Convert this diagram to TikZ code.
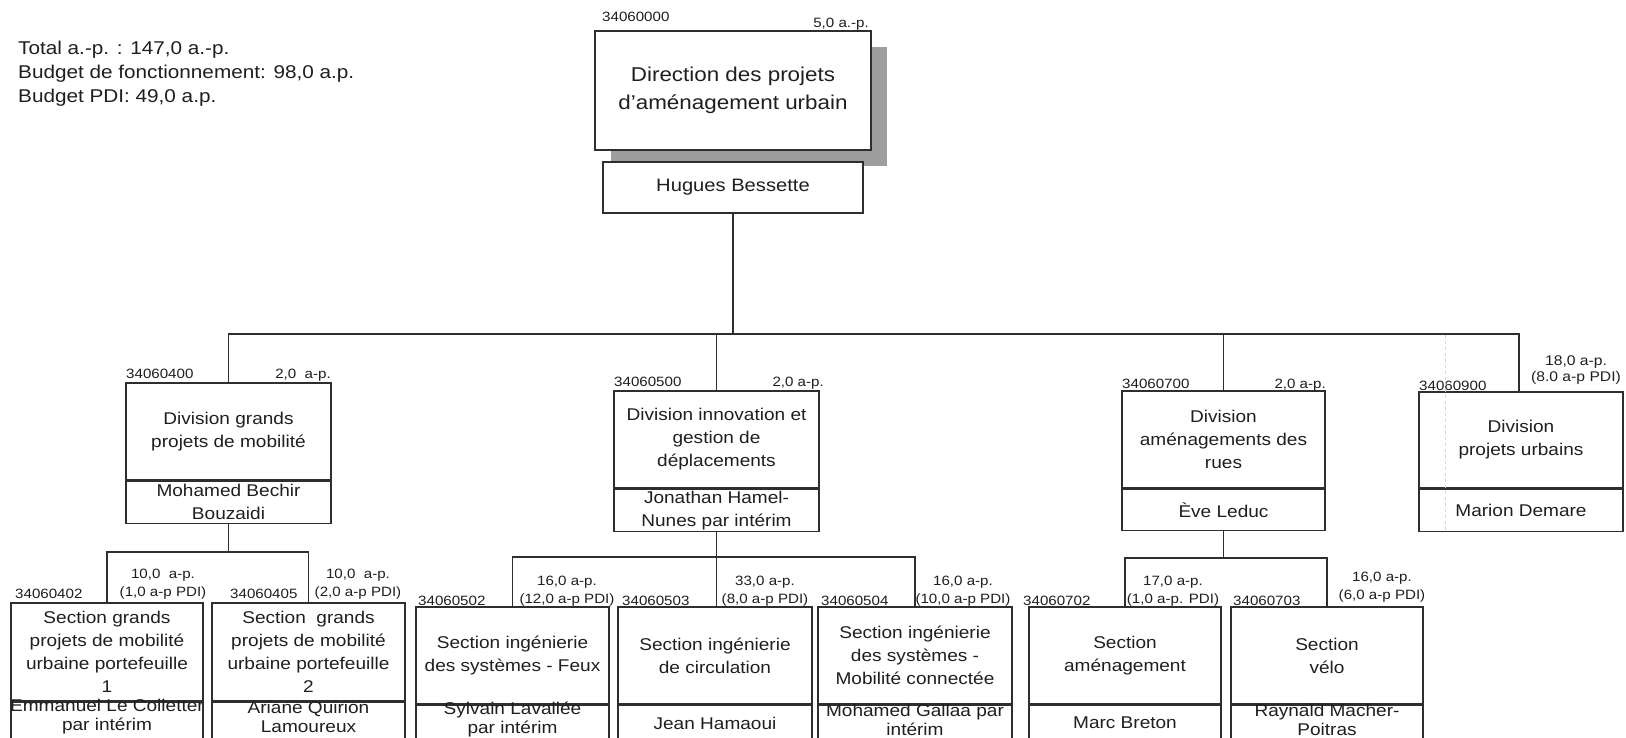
\documentclass[tikz,border=0pt]{standalone}
\usepackage{fontspec}
\setmainfont{Liberation Sans}[FakeStretch=1.12]
\newcommand\fsz[2]{\fontsize{#1}{#2}\selectfont}
\definecolor{linec}{HTML}{2E2E2E}
\definecolor{textc}{HTML}{1F1F1F}
\definecolor{shadowc}{HTML}{9E9E9E}
\tikzset{
  box/.style={draw=linec, line width=1.4pt, fill=white, inner sep=0pt, align=center, text=textc, font=\fsz{17}{23}},
  code/.style={inner sep=0pt, text=textc, font=\fsz{13.5}{16}},
  val/.style={inner sep=0pt, text=textc, align=center, font=\fsz{13.5}{18}},
  nametext/.style={inner sep=0pt, text=textc, align=center, font=\fsz{17}{19}},
  conn/.style={draw=linec, line width=1.4pt},
}
\begin{document}
\begin{tikzpicture}[x=1pt,y=-1pt]
\useasboundingbox[fill=white] (0,0) rectangle (1626,738);

% top-left totals
\node[inner sep=0pt, anchor=west, align=left, text=textc, font=\fsz{18.5}{24}] (tot) at (18,74)
  {Total a.-p. : 147,0 a.-p.\\Budget de fonctionnement: 98,0 a.p.\\Budget PDI: 49,0 a.p.};

% direction
\fill[shadowc] (611,47) rectangle (887,166);
\node[box, minimum width=276pt, minimum height=119pt, font=\fsz{20}{28}] (dir) at (733,90.5)
  {Direction des projets\\d’aménagement urbain};
\node[box, minimum width=260pt, minimum height=51pt, font=\fsz{18}{22}] (dirn) at (733,187.5) {Hugues Bessette};
\node[code, anchor=base west] (c0) at (602,22) {34060000};
\node[code, anchor=base east] (v0) at (869,28) {5,0 a.-p.};

% divisions
\node[box, minimum width=205pt, minimum height=97pt] (dg) at (228.5,431.5) {Division grands\\projets de mobilité};
\node[box, minimum width=205pt, minimum height=42pt, anchor=north] (dgn) at (dg.south) {Mohamed Bechir\\Bouzaidi};
\node[code, anchor=base west] (c4) at (126,378) {34060400};
\node[code, anchor=base east] (v4) at (331,378) {2,0~~a-p.};

\node[box, minimum width=205pt, minimum height=97pt] (di) at (716.5,439.5) {Division innovation et\\gestion de\\déplacements};
\node[box, minimum width=205pt, minimum height=42pt, anchor=north] (din) at (di.south) {Jonathan Hamel-\\Nunes par intérim};
\node[code, anchor=base west] (c5) at (614,386) {34060500};
\node[code, anchor=base east] (v5) at (824,386) {2,0 a-p.};

\node[box, minimum width=203pt, minimum height=97pt] (da) at (1223.5,439.5) {Division\\aménagements des\\rues};
\node[box, minimum width=203pt, minimum height=41pt, anchor=north] (dan) at (da.south) {Ève Leduc};
\node[code, anchor=base west] (c7) at (1122,388) {34060700};
\node[code, anchor=base east] (v7) at (1326,388) {2,0 a-p.};

\node[box, minimum width=204pt, minimum height=96pt] (dp) at (1521,440) {Division\\projets urbains};
\node[box, minimum width=204pt, minimum height=42pt, anchor=north] (dpn) at (dp.south) {Marion Demare};
\node[code, anchor=base west] (c9) at (1419,390) {34060900};
\node[val, font=\fsz{14}{16.5}] (v9) at (1576,370) {18,0 a-p.\\(8.0 a-p PDI)};
\draw[dashed, gray!35, line width=0.8pt] (1445,335) -- (1445,530);

% sections
\node[box, minimum width=192pt, minimum height=98pt] (s1) at (107,652) {Section grands\\projets de mobilité\\urbaine portefeuille\\1};
\node[box, minimum width=192pt, minimum height=49pt, anchor=north] (s1b) at (s1.south) {};
\node[nametext] (s1n) at (107,717) {Emmanuel Le Colletter\\par intérim};
\node[code, anchor=base west] (c402) at (15,598) {34060402};
\node[val] (v402) at (163,584) {10,0~~a-p.\\(1,0 a-p PDI)};

\node[box, minimum width=193pt, minimum height=98pt] (s2) at (308.5,652) {Section~ grands\\projets de mobilité\\urbaine portefeuille\\2};
\node[box, minimum width=193pt, minimum height=49pt, anchor=north] (s2b) at (s2.south) {};
\node[nametext] (s2n) at (308.5,717) {Ariane Quirion\\Lamoureux};
\node[code, anchor=base west] (c405) at (230,598) {34060405};
\node[val] (v405) at (358,584) {10,0~~a-p.\\(2,0 a-p PDI)};

\node[box, minimum width=193pt, minimum height=97pt] (s3) at (512.5,655.5) {Section ingénierie\\des systèmes - Feux};
\node[box, minimum width=193pt, minimum height=46pt, anchor=north] (s3b) at (s3.south) {};
\node[nametext] (s3n) at (512.5,720) {Sylvain Lavallée\\par intérim};
\node[code, anchor=base west] (c502) at (418,605) {34060502};
\node[val] (v502) at (567,591) {16,0 a-p.\\(12,0 a-p PDI)};

\node[box, minimum width=194pt, minimum height=97pt] (s4) at (715,655.5) {Section ingénierie\\de circulation};
\node[box, minimum width=194pt, minimum height=46pt, anchor=north] (s4b) at (s4.south) {};
\node[nametext] (s4n) at (715,723) {Jean Hamaoui};
\node[code, anchor=base west] (c503) at (622,605) {34060503};
\node[val] (v503) at (765,591) {33,0 a-p.\\(8,0 a-p PDI)};

\node[box, minimum width=194pt, minimum height=97pt] (s5) at (915,655.5) {Section ingénierie\\des systèmes -\\Mobilité connectée};
\node[box, minimum width=194pt, minimum height=46pt, anchor=north] (s5b) at (s5.south) {};
\node[nametext] (s5n) at (915,720) {Mohamed Gallaa par\\intérim};
\node[code, anchor=base west] (c504) at (821,605) {34060504};
\node[val] (v504) at (963,591) {16,0 a-p.\\(10,0 a-p PDI)};

\node[box, minimum width=192pt, minimum height=97pt] (s6) at (1125,655.5) {Section\\aménagement};
\node[box, minimum width=192pt, minimum height=46pt, anchor=north] (s6b) at (s6.south) {};
\node[nametext] (s6n) at (1125,723) {Marc Breton};
\node[code, anchor=base west] (c702) at (1023,605) {34060702};
\node[val] (v702) at (1173,591) {17,0 a-p.\\(1,0 a-p. PDI)};

\node[box, minimum width=192pt, minimum height=97pt] (s7) at (1327,655.5) {Section\\vélo};
\node[box, minimum width=192pt, minimum height=46pt, anchor=north] (s7b) at (s7.south) {};
\node[nametext] (s7n) at (1327,720) {Raynald Macher-\\Poitras};
\node[code, anchor=base west] (c703) at (1233,605) {34060703};
\node[val] (v703) at (1382,587.5) {16,0 a-p.\\(6,0 a-p PDI)};

% connectors
\coordinate (bus) at (0,334);
\draw[conn] (dirn.south) -- (dirn.south |- bus);
\draw[conn] (dg.north) |- ([xshift=-2pt]bus -| dp.north) -- ([xshift=-2pt]dp.north);
\draw[conn] (di.north) -- (di.north |- bus);
\draw[conn] (da.north) -- (da.north |- bus);

\coordinate (b4) at (0,552);
\draw[conn] (dgn.south) -- (dgn.south |- b4);
\draw[conn] (s1.north) |- (b4 -| s2.north) -- (s2.north);

\coordinate (b5) at (0,557);
\draw[conn] (din.south) -- (din.south |- s4.north);
\draw[conn] (s3.north) |- (b5 -| s5.north) -- (s5.north);

\coordinate (b7) at (0,558);
\draw[conn] (dan.south) -- (dan.south |- b7);
\draw[conn] (s6.north) |- (b7 -| s7.north) -- (s7.north);
\end{tikzpicture}
\end{document}
